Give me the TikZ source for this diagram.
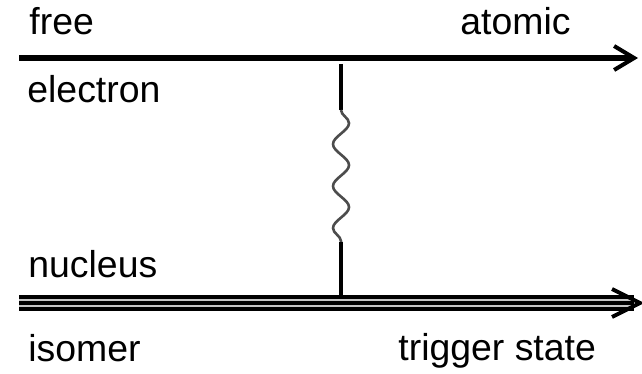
\documentclass[tikz,border=0pt]{standalone}
\usepackage{fontspec}
\setmainfont{Liberation Sans}
\usetikzlibrary{calc, arrows.meta, decorations.pathmorphing, positioning}

\begin{document}
\begin{tikzpicture}[x=0.5pt, y=-0.5pt,
		word/.style={inner sep=0pt, anchor=base west, font=\fontsize{18.7}{22}\selectfont},
		stem/.style={line width=2.2pt},
		chevron/.style={line width=2pt, line join=miter}]
	\useasboundingbox (0, 0) rectangle (642, 374);
	% words over and under the two lines
	\node[word] (free) at (29, 35) {free};
	\node[word] (atomic) at (460, 35) {atomic};
	\node[word] (electron) at (27, 103) {electron};
	\node[word] (nucleus) at (28, 277) {nucleus};
	\node[word] (isomer) at (28, 361) {isomer};
	\node[word] (trigger) at (398, 360) {trigger state};
	% electron: single line
	\coordinate (ein) at (19, 58);
	\coordinate (eout) at (638, 58);
	\draw[line width=3pt, -{Straight Barb[length=10pt, width=12pt, line width=2pt]}] (ein) -- (eout);
	% nucleus: three strands
	\coordinate (nin) at (19, 303);
	\coordinate (nout) at (640, 303);
	\draw[line width=8pt] (nin) -- ($(nout) + (-6, 0)$);
	\draw[gray!45, line width=0.8pt] ($(nin) + (0, -2.9)$) -- ($(nout) + (-9, -2.9)$);
	\draw[gray!45, line width=0.8pt] ($(nin) + (0, 2.9)$) -- ($(nout) + (-9, 2.9)$);
	\draw[chevron] ($(nout) + (-28, -14)$) -- (nout) -- ($(nout) + (-28, 14)$);
	% exchanged photon
	\coordinate (vtop) at (341, 64);
	\coordinate (wtop) at (341, 110);
	\coordinate (wbot) at (341, 242);
	\coordinate (vbot) at (341, 297);
	\draw[stem] (vtop) -- (wtop);
	\draw[black!70, line width=1.3pt, decorate, decoration={snake, segment length=21pt, amplitude=4pt}] (wtop) -- (wbot);
	\draw[stem] (wbot) -- (vbot);
\end{tikzpicture}
\end{document}
